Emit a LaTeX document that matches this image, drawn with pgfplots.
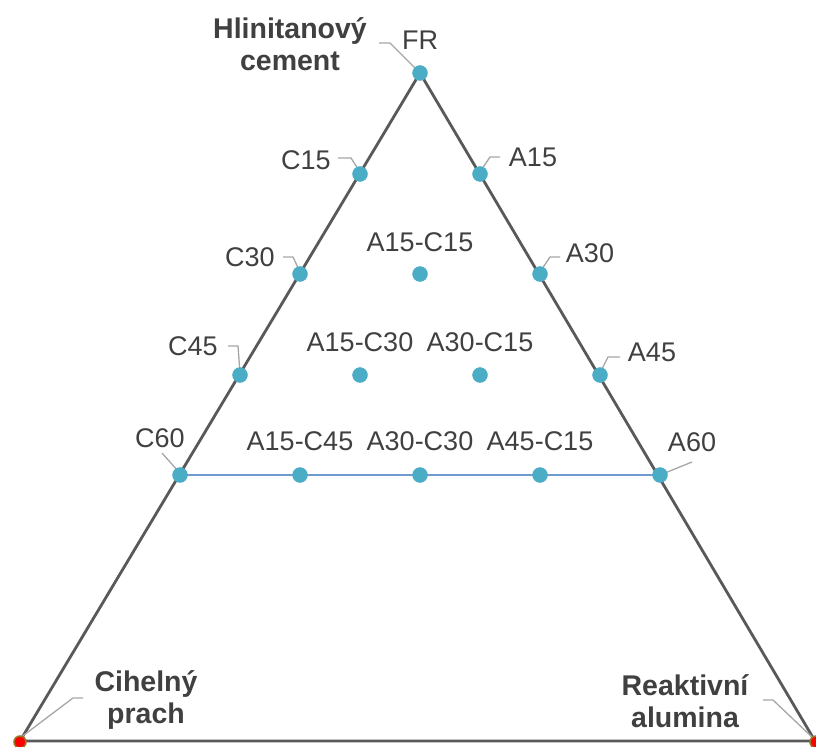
\documentclass[border=0pt]{standalone}
\usepackage{pgfplots}
\pgfplotsset{compat=1.18}
\usepackage{fontspec}
\setmainfont{Liberation Sans}
\definecolor{txt}{HTML}{404040}
\definecolor{tri}{HTML}{595959}
\definecolor{lead}{HTML}{A6A6A6}
\definecolor{pt}{HTML}{4BACC6}
\definecolor{bl}{HTML}{6F9BD1}
\begin{document}
\begin{tikzpicture}
\begin{axis}[hide axis, scale only axis, width=816bp, height=747bp,
  xmin=0, xmax=816, ymin=0, ymax=747, y dir=reverse, clip=true]
% points
\addplot[only marks, mark=*, mark size=7.5bp, color=pt, mark options={draw=pt, fill=pt}] coordinates {
 (420,73)
 (360,174) (480,174)
 (300,274) (420,274) (540,274)
 (240,375) (360,375) (480,375) (600,375)
 (180,475) (300,475) (420,475) (540,475) (660,475)
};
% vertex markers
\addplot[only marks, mark=*, mark size=6bp, color=red, mark options={draw={rgb,255:red,150;green,120;blue,40}, fill=red, line width=1.5bp}] coordinates {(20,742) (816,742)};
% 60% line
\addplot[bl, line width=1.5bp] coordinates {(180,475) (660,475)};
% triangle
\addplot[tri, line width=2.8bp, line join=round] coordinates {(20,741) (420,73) (815,741) (20,741)};
% leader lines
\addplot[lead, line width=1.3bp] coordinates {(379,43) (390,43) (417,70)};
\addplot[lead, line width=1.3bp] coordinates {(338,158) (351,158) (360,172)};
\addplot[lead, line width=1.3bp] coordinates {(480,172) (490,157) (500,157)};
\addplot[lead, line width=1.3bp] coordinates {(283,257) (293,257) (300,272)};
\addplot[lead, line width=1.3bp] coordinates {(540,272) (550,257) (560,257)};
\addplot[lead, line width=1.3bp] coordinates {(228,346) (238,346) (240,373)};
\addplot[lead, line width=1.3bp] coordinates {(600,373) (608,357) (620,357)};
\addplot[lead, line width=1.3bp] coordinates {(162,453) (178,471)};
\addplot[lead, line width=1.3bp] coordinates {(660,475) (692,462)};
\addplot[lead, line width=1.3bp] coordinates {(20,738) (73,698) (83,698)};
\addplot[lead, line width=1.3bp] coordinates {(763,700) (773,700) (813,738)};
% labels
\begin{scope}[every node/.style={text=txt, font=\fontsize{27bp}{30bp}\selectfont, inner sep=0pt}]
\node at (axis cs:420,40) {FR};
\node at (axis cs:306,160) {C15};
\node at (axis cs:533,157) {A15};
\node at (axis cs:420,242) {A15-C15};
\node at (axis cs:250,257) {C30};
\node at (axis cs:590,253) {A30};
\node at (axis cs:193,346) {C45};
\node at (axis cs:652,352) {A45};
\node at (axis cs:360,342) {A15-C30};
\node at (axis cs:480,342) {A30-C15};
\node at (axis cs:160,438) {C60};
\node at (axis cs:692,442) {A60};
\node at (axis cs:300,441) {A15-C45};
\node at (axis cs:420,441) {A30-C30};
\node at (axis cs:540,441) {A45-C15};
\end{scope}
\begin{scope}[every node/.style={text=txt, font=\bfseries\fontsize{28.5bp}{32bp}\selectfont, inner sep=0pt, align=center}]
\node at (axis cs:290,44) {Hlinitanový\\cement};
\node at (axis cs:146,700) {Cihelný\\prach};
\node at (axis cs:685,701) {Reaktivní\\alumina};
\end{scope}
\end{axis}
\pgfresetboundingbox
\useasboundingbox (current axis.south west) rectangle (current axis.north east);
\end{tikzpicture}
\end{document}
